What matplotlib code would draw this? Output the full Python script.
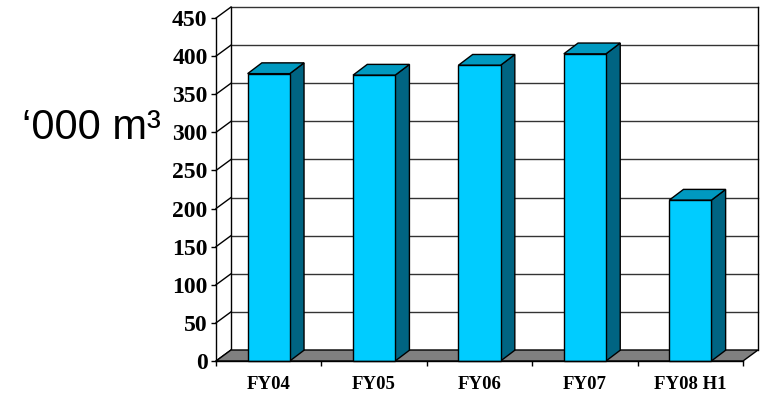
import matplotlib
matplotlib.use("Agg")
import matplotlib.pyplot as plt
from matplotlib.patches import Polygon

categories = ["FY04", "FY05", "FY06", "FY07", "FY08 H1"]
values = [377, 375, 388, 403, 211]
y_ticks = [0, 50, 100, 150, 200, 250, 300, 350, 400, 450]
y_label = "\u2018000 m\u00b3"

front_col = "#00CCFF"
top_col = "#0099C0"
side_col = "#006482"
floor_col = "#808080"

fig = plt.figure(figsize=(7.62, 3.94), dpi=100)
ax = fig.add_axes([216/762, 1-361/394, (743-216)/762, (361-18)/394])
n = len(categories)
ax.set_xlim(-0.5, n-0.5)
ax.set_ylim(0, 450)

# depth offset in data units
DX = 15/105.4
DY = 11/0.762
x0, x1 = -0.5, n-0.5

# back wall gridlines and borders
for v in y_ticks[1:]:
    ax.plot([x0+DX, x1+DX], [v+DY, v+DY], color="#333333", lw=1.0, zorder=1, clip_on=False)
for v in y_ticks:
    ax.plot([x0, x0+DX], [v, v+DY], color="black", lw=1.0, zorder=1, clip_on=False)
ax.plot([x0+DX, x0+DX], [DY, 450+DY], color="black", lw=1.0, zorder=1, clip_on=False)
ax.plot([x1+DX, x1+DX], [DY, 450+DY], color="black", lw=1.0, zorder=1, clip_on=False)

# floor
floor = Polygon([(x0, 0), (x1, 0), (x1+DX, DY), (x0+DX, DY)], closed=True,
                facecolor=floor_col, edgecolor="black", lw=1.0, zorder=2, clip_on=False)
ax.add_patch(floor)

# bars
w = 0.2
bdx, bdy = DX*0.95, DY*0.98
for i, v in enumerate(values):
    front = Polygon([(i-w, 0), (i+w, 0), (i+w, v), (i-w, v)], closed=True,
                    facecolor=front_col, edgecolor="black", lw=1.0, zorder=3, clip_on=False)
    side = Polygon([(i+w, 0), (i+w+bdx, bdy), (i+w+bdx, v+bdy), (i+w, v)], closed=True,
                   facecolor=side_col, edgecolor="black", lw=1.0, zorder=3, clip_on=False)
    top = Polygon([(i-w, v), (i+w, v), (i+w+bdx, v+bdy), (i-w+bdx, v+bdy)], closed=True,
                  facecolor=top_col, edgecolor="black", lw=1.0, zorder=3, clip_on=False)
    for p in (side, top, front):
        ax.add_patch(p)

for s in ["top", "right"]:
    ax.spines[s].set_visible(False)
ax.spines["left"].set_linewidth(1.0)
ax.spines["bottom"].set_linewidth(1.0)
ax.spines["left"].set_zorder(4)
ax.spines["bottom"].set_zorder(4)

ax.set_yticks(y_ticks)
ax.set_yticklabels([str(t) for t in y_ticks], fontfamily="Liberation Serif",
                   fontweight="bold", fontsize=17)
ax.tick_params(axis="y", direction="out", length=3.6, width=1.0, pad=2.5)

ax.set_xticks(range(n))
ax.set_xticklabels(categories, fontfamily="Liberation Serif", fontweight="bold", fontsize=13.5)
ax.set_xticks([k-0.5 for k in range(n+1)], minor=True)
ax.tick_params(axis="x", which="major", length=0, pad=11)
ax.tick_params(axis="x", which="minor", direction="out", length=3.6, width=1.0)

fig.text(22/762, 1-128/394, y_label, fontfamily="Liberation Sans", fontsize=30,
         ha="left", va="center")

fig.savefig("out.png", dpi=100)
